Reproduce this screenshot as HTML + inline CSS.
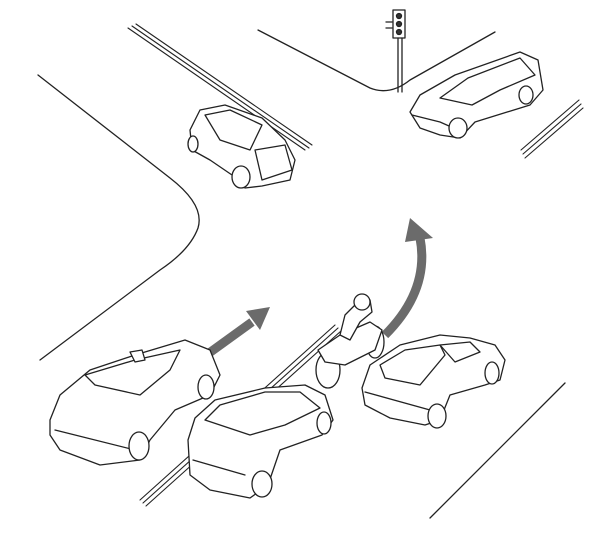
<!DOCTYPE html>
<html><head><meta charset="utf-8"><style>
html,body{margin:0;padding:0;background:#fff;width:600px;height:558px;overflow:hidden}
</style></head><body>
<svg width="600" height="558" viewBox="0 0 600 558" xmlns="http://www.w3.org/2000/svg" fill="none" stroke="#222" stroke-width="1.3" stroke-linecap="round" stroke-linejoin="round">
<!-- road edges -->
<path d="M38 75 L170 178 Q205 205 198 228 Q190 250 160 270 L40 360"/>
<path d="M258 30 L370 88 Q390 96 410 80 L495 32"/>
<path d="M430 518 L565 383"/>
<!-- triple lines -->
<g stroke-width="1.1">
<path d="M128 28 L305 150"/><path d="M132 26 L309 148"/><path d="M136 24 L312 145"/>
<path d="M525 158 L583 108"/><path d="M523 154 L581 104"/><path d="M521 150 L579 100"/>
<path d="M140 500 L335 325"/><path d="M143 503 L338 328"/><path d="M146 506 L341 331"/>
</g>
<!-- traffic light -->
<rect x="393" y="10" width="12" height="28" fill="#fff"/>
<circle cx="399" cy="16" r="2.5" fill="#333"/><circle cx="399" cy="24" r="2.5" fill="#333"/><circle cx="399" cy="32" r="2.5" fill="#333"/>
<path d="M386 28 L392 28 M386 22 L392 22"/>
<path d="M398 38 L398 92 M402 38 L402 92"/>
<!-- arrows -->
<path d="M205 356 L252 322" stroke="#6b6b6b" stroke-width="9" stroke-linecap="butt"/>
<path d="M246 311 L270 307 L260 330 Z" fill="#6b6b6b" stroke="none"/>
<path d="M385 335 Q430 290 420 238" stroke="#6b6b6b" stroke-width="9" stroke-linecap="butt"/>
<path d="M405 242 L410 218 L433 238 Z" fill="#6b6b6b" stroke="none"/>
<g fill="#fff">
<!-- top small car -->
<path d="M190 130 L200 110 L225 105 L262 118 L285 140 L295 160 L290 180 L262 186 L245 188 L232 175 L210 160 L192 150 Z"/>
<path d="M205 115 L230 110 L262 125 L250 150 L220 140 Z"/>
<path d="M255 150 L285 145 L292 170 L262 180 Z"/>
<ellipse cx="241" cy="177" rx="9" ry="11" fill="#fff"/>
<ellipse cx="193" cy="144" rx="5" ry="8"/>
<!-- top right wagon -->
<path d="M410 112 L420 95 L455 75 L520 52 L538 60 L543 90 L530 105 L475 122 L460 138 L440 135 L420 128 Z"/>
<path d="M440 98 L468 78 L520 58 L535 75 L500 90 L472 105 Z"/>
<path d="M412 115 L440 122 L458 130"/>
<ellipse cx="458" cy="128" rx="9" ry="10"/>
<ellipse cx="526" cy="95" rx="7" ry="9"/>
<!-- taxi -->
<path d="M50 420 L60 395 L90 370 L135 355 L185 340 L210 350 L220 375 L210 395 L175 410 L150 440 L140 460 L100 465 L60 450 L50 435 Z"/>
<path d="M85 375 L135 360 L180 350 L170 370 L140 395 L95 385 Z"/>
<path d="M130 352 L135 362 L145 360 L142 350 Z"/>
<path d="M55 430 L135 450" />
<ellipse cx="139" cy="446" rx="10" ry="14"/>
<ellipse cx="206" cy="387" rx="8" ry="12"/>
<!-- minivan -->
<path d="M188 440 L195 418 L215 400 L265 388 L305 385 L325 395 L333 420 L322 435 L280 450 L268 485 L250 498 L210 490 L190 475 Z"/>
<path d="M205 420 L220 405 L265 392 L300 392 L320 408 L285 425 L250 435 Z"/>
<path d="M193 460 L245 475"/>
<ellipse cx="262" cy="484" rx="10" ry="13"/>
<ellipse cx="324" cy="423" rx="7" ry="11"/>
<!-- motorcycle -->
<ellipse cx="328" cy="370" rx="12" ry="18"/>
<ellipse cx="375" cy="342" rx="9" ry="16"/>
<path d="M318 350 L340 335 L370 322 L382 330 L375 350 L345 365 L325 362 Z"/>
<path d="M340 335 L345 315 L355 305 L362 298 L370 300 L372 312 L360 322 L350 340 Z"/>
<circle cx="362" cy="302" r="8"/>
<!-- right sedan -->
<path d="M362 388 L370 365 L400 345 L440 335 L470 338 L495 345 L505 360 L500 380 L485 385 L450 395 L440 420 L425 425 L390 418 L365 405 Z"/>
<path d="M380 365 L405 350 L440 345 L445 355 L420 385 L385 378 Z"/>
<path d="M440 345 L470 342 L480 352 L455 362 Z"/>
<path d="M365 392 L430 410"/>
<ellipse cx="437" cy="416" rx="9" ry="12"/>
<ellipse cx="492" cy="373" rx="7" ry="11"/>
</g>
</svg>
</body></html>
